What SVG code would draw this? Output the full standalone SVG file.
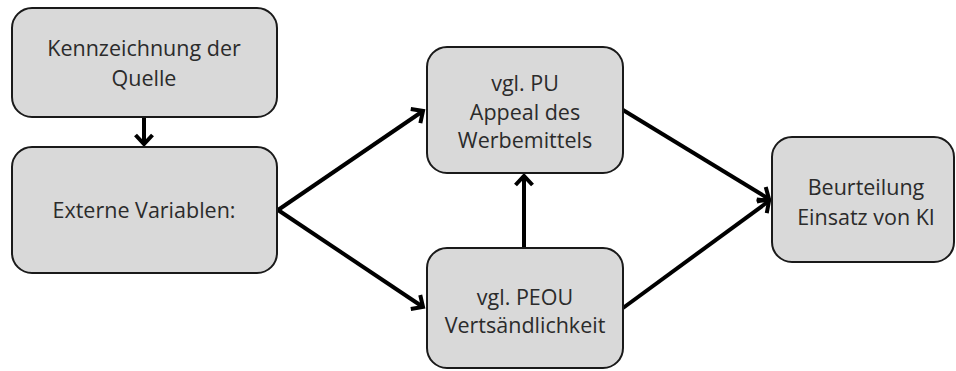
<svg xmlns="http://www.w3.org/2000/svg" width="956" height="371" viewBox="0 0 956 371">
  <defs>
    <style>
      .box { fill: #d9d9d9; stroke: #1a1a1a; stroke-width: 2; }
      .lbl { font-family: "Open Sans", "Noto Sans", "DejaVu Sans", sans-serif; font-size: 21.5px; fill: #2b2b2b; text-anchor: middle; }
      .edge { fill: none; stroke: #000; stroke-width: 4; }
    </style>
    <marker id="chev" markerUnits="userSpaceOnUse" viewBox="-14 -12 18 24" refX="0" refY="0" markerWidth="18" markerHeight="24" orient="auto">
      <path d="M -9 -8.5 L 0 0 L -9 8.5" fill="none" stroke="#000" stroke-width="4" stroke-linejoin="miter"/>
    </marker>
  </defs>

  <g id="connectors">
    <line class="edge" x1="144" y1="117" x2="144" y2="144" marker-end="url(#chev)"/>
    <line class="edge" x1="278" y1="210" x2="423" y2="111" marker-end="url(#chev)"/>
    <line class="edge" x1="278" y1="210" x2="423" y2="307" marker-end="url(#chev)"/>
    <line class="edge" x1="524" y1="248" x2="524" y2="176" marker-end="url(#chev)"/>
    <line class="edge" x1="623" y1="110" x2="769" y2="199" marker-end="url(#chev)"/>
    <line class="edge" x1="623" y1="308" x2="769" y2="201" marker-end="url(#chev)"/>
  </g>

  <g id="kennzeichnung">
    <rect class="box" x="12" y="8" width="265" height="109" rx="20"/>
    <text class="lbl" x="144" y="56">Kennzeichnung der</text>
    <text class="lbl" x="144" y="86">Quelle</text>
  </g>

  <g id="externe">
    <rect class="box" x="12" y="147" width="265" height="126" rx="20"/>
    <text class="lbl" x="144" y="218">Externe Variablen:</text>
  </g>

  <g id="pu">
    <rect class="box" x="427" y="47" width="196" height="126" rx="20"/>
    <text class="lbl" x="525" y="91">vgl. PU</text>
    <text class="lbl" x="525" y="120">Appeal des</text>
    <text class="lbl" x="525" y="148">Werbemittels</text>
  </g>

  <g id="peou">
    <rect class="box" x="427" y="248" width="196" height="120" rx="20"/>
    <text class="lbl" x="525" y="305">vgl. PEOU</text>
    <text class="lbl" x="525" y="333">Vertsändlichkeit</text>
  </g>

  <g id="beurteilung">
    <rect class="box" x="772" y="137" width="182" height="125" rx="20"/>
    <text class="lbl" x="866" y="195">Beurteilung</text>
    <text class="lbl" x="866" y="225">Einsatz von KI</text>
  </g>
</svg>
